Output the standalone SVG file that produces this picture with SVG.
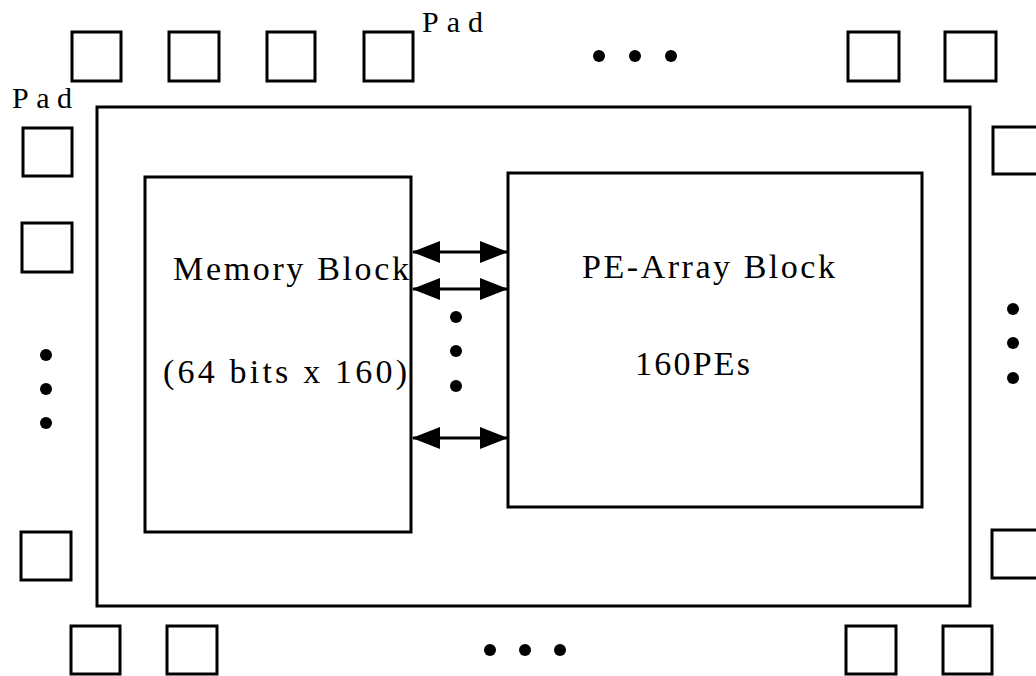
<svg xmlns="http://www.w3.org/2000/svg" width="1036" height="676" viewBox="0 0 1036 676">
<style>
.box{fill:none;stroke:#000;stroke-width:3}
.pad{fill:#fff;stroke:#000;stroke-width:3}
.dot{fill:#000}
.lbl{font-family:"Liberation Serif","Times New Roman",serif;font-size:34px;fill:#000}
.pl{font-family:"Liberation Serif","Times New Roman",serif;font-size:30px;fill:#000}
.conn{stroke:#000;stroke-width:3;fill:none}
</style>
<defs>
<marker id="ah" viewBox="0 0 28 22" refX="27" refY="11" markerWidth="28" markerHeight="22" markerUnits="userSpaceOnUse" orient="auto-start-reverse">
<path d="M0,0 L28,11 L0,22 Z" fill="#000"/>
</marker>
</defs>
<rect width="1036" height="676" fill="#fff"/>
<g id="chip"><rect class="box" x="97" y="107" width="873" height="499"/></g>
<g id="memory">
<rect class="box" x="145" y="177" width="266" height="355"/>
<text class="lbl" x="173" y="280" textLength="236" lengthAdjust="spacing">Memory  Block</text>
<text class="lbl" x="163" y="383" textLength="244" lengthAdjust="spacing">(64 bits x 160)</text>
</g>
<g id="pe-array">
<rect class="box" x="508" y="173" width="414" height="334"/>
<text class="lbl" x="582" y="278" textLength="253" lengthAdjust="spacing">PE-Array  Block</text>
<text class="lbl" x="635" y="375" textLength="115" lengthAdjust="spacing">160PEs</text>
</g>
<g id="connectors">
<line class="conn" x1="413" y1="252" x2="507" y2="252" marker-start="url(#ah)" marker-end="url(#ah)"/>
<line class="conn" x1="413" y1="289" x2="507" y2="289" marker-start="url(#ah)" marker-end="url(#ah)"/>
<line class="conn" x1="413" y1="438" x2="507" y2="438" marker-start="url(#ah)" marker-end="url(#ah)"/>
<circle class="dot" cx="456" cy="317" r="6"/>
<circle class="dot" cx="456" cy="351" r="6"/>
<circle class="dot" cx="456" cy="386" r="6"/>
</g>
<g id="pads-top">
<rect class="pad" x="72" y="32" width="49" height="49"/>
<rect class="pad" x="169" y="32" width="50" height="49"/>
<rect class="pad" x="267" y="32" width="48" height="49"/>
<rect class="pad" x="364" y="32" width="49" height="49"/>
<rect class="pad" x="848" y="32" width="51" height="49"/>
<rect class="pad" x="945" y="32" width="51" height="49"/>
<circle class="dot" cx="599" cy="56" r="6"/>
<circle class="dot" cx="635" cy="56" r="6"/>
<circle class="dot" cx="671" cy="56" r="6"/>
<text class="pl" x="422" y="32" textLength="61" lengthAdjust="spacing">Pad</text>
</g>
<g id="pads-left">
<text class="pl" x="12" y="108" textLength="60" lengthAdjust="spacing">Pad</text>
<rect class="pad" x="23" y="128" width="49" height="48"/>
<rect class="pad" x="22" y="223" width="50" height="49"/>
<rect class="pad" x="21" y="532" width="50" height="48"/>
<circle class="dot" cx="46" cy="355" r="6"/>
<circle class="dot" cx="46" cy="389" r="6"/>
<circle class="dot" cx="46" cy="423" r="6"/>
</g>
<g id="pads-right">
<rect class="pad" x="993" y="127" width="60" height="47"/>
<rect class="pad" x="992" y="530" width="60" height="48"/>
<circle class="dot" cx="1013" cy="309" r="6"/>
<circle class="dot" cx="1013" cy="343" r="6"/>
<circle class="dot" cx="1013" cy="378" r="6"/>
</g>
<g id="pads-bottom">
<rect class="pad" x="71" y="626" width="49" height="48"/>
<rect class="pad" x="167" y="626" width="50" height="48"/>
<rect class="pad" x="846" y="626" width="50" height="48"/>
<rect class="pad" x="943" y="626" width="49" height="48"/>
<circle class="dot" cx="490" cy="650" r="6"/>
<circle class="dot" cx="525" cy="650" r="6"/>
<circle class="dot" cx="560" cy="650" r="6"/>
</g>
</svg>
